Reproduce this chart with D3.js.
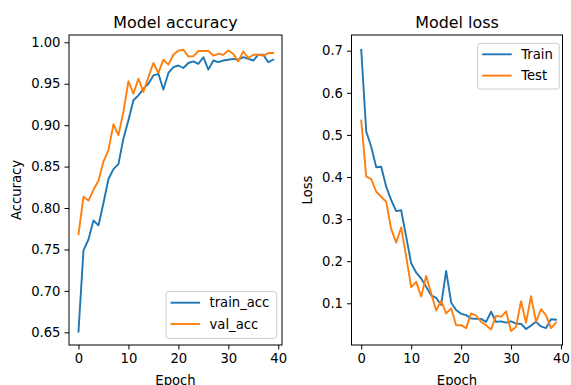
<!DOCTYPE html>
<html><head><meta charset="utf-8">
<script src="https://cdn.jsdelivr.net/npm/d3@7"></script>
<style>
body{margin:0;background:#fff;}
svg text{font-family:"DejaVu Sans",sans-serif;fill:#000;}
</style></head>
<body><svg id="c" width="571" height="385"></svg>
<script>
const epochs = d3.range(40);
const trainAcc = [0.651,0.749,0.762,0.785,0.779,0.806,0.835,0.847,0.853,0.884,0.906,0.930,0.936,0.944,0.950,0.960,0.962,0.943,0.963,0.970,
0.972,0.969,0.975,0.977,0.974,0.982,0.967,0.978,0.976,0.978,0.979,0.980,0.979,0.982,0.980,0.978,0.985,0.985,0.976,0.979];
const valAcc = [0.7685,0.8135,0.809,0.822,0.833,0.856,0.870,0.901,0.888,0.916,0.953,0.938,0.956,0.940,0.958,0.975,0.963,0.979,0.973,0.985,
0.990,0.991,0.983,0.983,0.9895,0.9895,0.9895,0.984,0.986,0.985,0.990,0.986,0.977,0.989,0.981,0.985,0.985,0.984,0.987,0.987];
const trainLoss = [0.702,0.508,0.472,0.423,0.4245,0.377,0.345,0.319,0.321,0.258,0.195,0.173,0.159,0.139,0.119,0.113,0.096,0.177,0.102,0.084,
0.075,0.072,0.064,0.063,0.063,0.056,0.080,0.056,0.057,0.054,0.057,0.052,0.051,0.039,0.047,0.056,0.045,0.041,0.062,0.061];
const valLoss = [0.534,0.401,0.395,0.365,0.353,0.341,0.276,0.244,0.280,0.211,0.138,0.151,0.116,0.165,0.124,0.083,0.106,0.076,0.088,0.048,
0.048,0.041,0.076,0.071,0.056,0.048,0.038,0.070,0.068,0.081,0.034,0.044,0.105,0.054,0.117,0.056,0.086,0.072,0.041,0.054];
const xTicks = [0,10,20,30,40];
const accTicks = [0.65,0.70,0.75,0.80,0.85,0.90,0.95,1.00];
const lossTicks = [0.1,0.2,0.3,0.4,0.5,0.6,0.7];
const accLegend = ["train_acc","val_acc"];
const lossLegend = ["Train","Test"];
const colors = ["#1f77b4","#ff7f0e"];

const svg = d3.select("#c");
const FS = 13.2;

function panel(o){
  const g = svg.append("g");
  const x = d3.scaleLinear().domain(o.xdom).range([o.x0,o.x1]);
  const y = d3.scaleLinear().domain(o.ydom).range([o.y1,o.y0]);
  const line = d3.line().x((d,i)=>x(epochs[i])).y(d=>y(d));
  o.series.forEach((s,k)=>{
    g.append("path").datum(s).attr("d",line).attr("fill","none")
     .attr("stroke",colors[k]).attr("stroke-width",1.9).attr("stroke-linejoin","round").attr("stroke-linecap","square");
  });
  const ax = g.append("g").attr("transform",`translate(0,${o.y1})`)
    .call(d3.axisBottom(x).tickValues(xTicks).tickSize(4.5).tickPadding(4).tickFormat(d3.format("d")));
  const ay = g.append("g").attr("transform",`translate(${o.x0},0)`)
    .call(d3.axisLeft(y).tickValues(o.yticks).tickSize(4.5).tickPadding(4).tickFormat(d3.format(o.yfmt)));
  [ax,ay].forEach(a=>{
    a.select(".domain").remove();
    a.selectAll("line").attr("stroke","#000").attr("stroke-width",1);
    a.selectAll("text").attr("font-size",FS).attr("font-family","DejaVu Sans").attr("fill","#000");
  });
  g.append("rect").attr("x",o.x0).attr("y",o.y0).attr("width",o.x1-o.x0).attr("height",o.y1-o.y0)
   .attr("fill","none").attr("stroke","#000").attr("stroke-width",1);
  g.append("text").attr("x",(o.x0+o.x1)/2).attr("y",27.5).attr("text-anchor","middle").attr("font-size",15.9).text(o.title);
  g.append("text").attr("x",(o.x0+o.x1)/2).attr("y",384.5).attr("text-anchor","middle").attr("font-size",FS).text("Epoch");
  g.append("text").attr("transform",`translate(${o.ylabx},${(o.y0+o.y1)/2}) rotate(-90)`).attr("text-anchor","middle").attr("font-size",FS).text(o.ylabel);
  const L = o.leg;
  g.append("rect").attr("x",L.x).attr("y",L.y).attr("width",L.w).attr("height",L.h).attr("rx",2.5)
    .attr("fill","#fff").attr("fill-opacity",0.8).attr("stroke","#cccccc").attr("stroke-width",1);
  o.legend.forEach((t,k)=>{
    const yy = L.y + 11 + k*21.3;
    g.append("line").attr("x1",L.x+4.5).attr("x2",L.x+34).attr("y1",yy).attr("y2",yy)
      .attr("stroke",colors[k]).attr("stroke-width",1.9);
    g.append("text").attr("x",L.x+43.5).attr("y",yy).attr("dy","0.36em").attr("font-size",FS).text(t);
  });
}

panel({xdom:[-1.9,40.75], x0:69, x1:282, ydom:[0.6347,1.0088], y0:35, y1:345,
  series:[trainAcc,valAcc], yticks:accTicks, yfmt:".2f", title:"Model accuracy", ylabel:"Accuracy", ylabx:21,
  legend:accLegend, leg:{x:166,y:291.7,w:110.7,h:46.6}});
panel({xdom:[-1.95,40.3], x0:351.5, x1:562.5, ydom:[0.7-(345-50.7)/421, 0.7+(50.7-35)/421], y0:35, y1:345,
  series:[trainLoss,valLoss], yticks:lossTicks, yfmt:".1f", title:"Model loss", ylabel:"Loss", ylabx:312,
  legend:lossLegend, leg:{x:477.7,y:43.3,w:81.6,h:45.7}});
</script></body></html>
